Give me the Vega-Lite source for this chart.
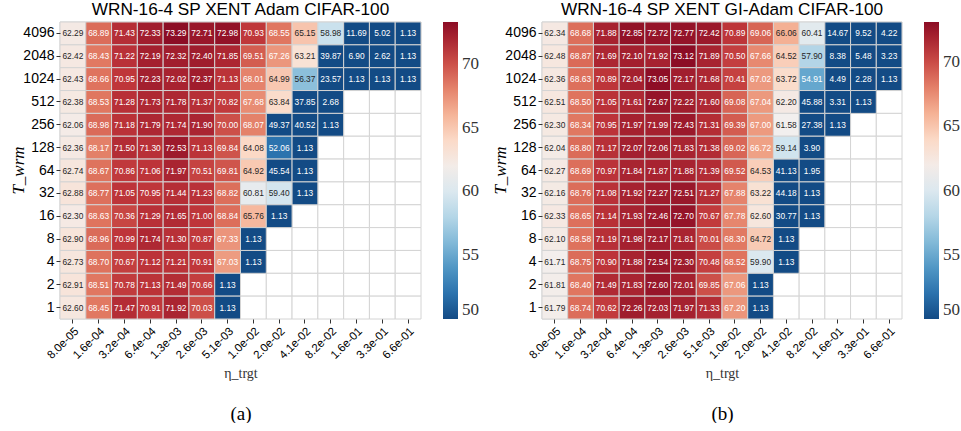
{
  "$schema": "https://vega.github.io/schema/vega-lite/v6.json",
  "background": "white",
  "padding": {"left": 9, "top": 1, "right": 0, "bottom": 0},
  "config": {
    "view": {"stroke": null},
    "concat": {"spacing": 12},
    "font": "Liberation Sans"
  },
  "datasets": {
    "a": [
      {"T":4096,"eta":"8.0e-05","acc":62.29},{"T":4096,"eta":"1.6e-04","acc":68.89},{"T":4096,"eta":"3.2e-04","acc":71.43},{"T":4096,"eta":"6.4e-04","acc":72.33},{"T":4096,"eta":"1.3e-03","acc":73.29},{"T":4096,"eta":"2.6e-03","acc":72.71},{"T":4096,"eta":"5.1e-03","acc":72.98},{"T":4096,"eta":"1.0e-02","acc":70.93},{"T":4096,"eta":"2.0e-02","acc":68.55},{"T":4096,"eta":"4.1e-02","acc":65.15},{"T":4096,"eta":"8.2e-02","acc":58.98},{"T":4096,"eta":"1.6e-01","acc":11.69},{"T":4096,"eta":"3.3e-01","acc":5.02},{"T":4096,"eta":"6.6e-01","acc":1.13},
      {"T":2048,"eta":"8.0e-05","acc":62.42},{"T":2048,"eta":"1.6e-04","acc":68.43},{"T":2048,"eta":"3.2e-04","acc":71.22},{"T":2048,"eta":"6.4e-04","acc":72.19},{"T":2048,"eta":"1.3e-03","acc":72.32},{"T":2048,"eta":"2.6e-03","acc":72.40},{"T":2048,"eta":"5.1e-03","acc":71.85},{"T":2048,"eta":"1.0e-02","acc":69.51},{"T":2048,"eta":"2.0e-02","acc":67.26},{"T":2048,"eta":"4.1e-02","acc":63.21},{"T":2048,"eta":"8.2e-02","acc":39.87},{"T":2048,"eta":"1.6e-01","acc":6.90},{"T":2048,"eta":"3.3e-01","acc":2.62},{"T":2048,"eta":"6.6e-01","acc":1.13},
      {"T":1024,"eta":"8.0e-05","acc":62.43},{"T":1024,"eta":"1.6e-04","acc":68.66},{"T":1024,"eta":"3.2e-04","acc":70.95},{"T":1024,"eta":"6.4e-04","acc":72.23},{"T":1024,"eta":"1.3e-03","acc":72.02},{"T":1024,"eta":"2.6e-03","acc":72.37},{"T":1024,"eta":"5.1e-03","acc":71.13},{"T":1024,"eta":"1.0e-02","acc":68.01},{"T":1024,"eta":"2.0e-02","acc":64.99},{"T":1024,"eta":"4.1e-02","acc":56.37},{"T":1024,"eta":"8.2e-02","acc":23.57},{"T":1024,"eta":"1.6e-01","acc":1.13},{"T":1024,"eta":"3.3e-01","acc":1.13},{"T":1024,"eta":"6.6e-01","acc":1.13},
      {"T":512,"eta":"8.0e-05","acc":62.38},{"T":512,"eta":"1.6e-04","acc":68.53},{"T":512,"eta":"3.2e-04","acc":71.28},{"T":512,"eta":"6.4e-04","acc":71.73},{"T":512,"eta":"1.3e-03","acc":71.78},{"T":512,"eta":"2.6e-03","acc":71.37},{"T":512,"eta":"5.1e-03","acc":70.82},{"T":512,"eta":"1.0e-02","acc":67.68},{"T":512,"eta":"2.0e-02","acc":63.84},{"T":512,"eta":"4.1e-02","acc":37.85},{"T":512,"eta":"8.2e-02","acc":2.68},{"T":512,"eta":"1.6e-01","acc":null},{"T":512,"eta":"3.3e-01","acc":null},{"T":512,"eta":"6.6e-01","acc":null},
      {"T":256,"eta":"8.0e-05","acc":62.06},{"T":256,"eta":"1.6e-04","acc":68.98},{"T":256,"eta":"3.2e-04","acc":71.18},{"T":256,"eta":"6.4e-04","acc":71.79},{"T":256,"eta":"1.3e-03","acc":71.74},{"T":256,"eta":"2.6e-03","acc":71.90},{"T":256,"eta":"5.1e-03","acc":70.00},{"T":256,"eta":"1.0e-02","acc":68.07},{"T":256,"eta":"2.0e-02","acc":49.37},{"T":256,"eta":"4.1e-02","acc":40.52},{"T":256,"eta":"8.2e-02","acc":1.13},{"T":256,"eta":"1.6e-01","acc":null},{"T":256,"eta":"3.3e-01","acc":null},{"T":256,"eta":"6.6e-01","acc":null},
      {"T":128,"eta":"8.0e-05","acc":62.36},{"T":128,"eta":"1.6e-04","acc":68.17},{"T":128,"eta":"3.2e-04","acc":71.50},{"T":128,"eta":"6.4e-04","acc":71.30},{"T":128,"eta":"1.3e-03","acc":72.53},{"T":128,"eta":"2.6e-03","acc":71.13},{"T":128,"eta":"5.1e-03","acc":69.84},{"T":128,"eta":"1.0e-02","acc":64.08},{"T":128,"eta":"2.0e-02","acc":52.06},{"T":128,"eta":"4.1e-02","acc":1.13},{"T":128,"eta":"8.2e-02","acc":null},{"T":128,"eta":"1.6e-01","acc":null},{"T":128,"eta":"3.3e-01","acc":null},{"T":128,"eta":"6.6e-01","acc":null},
      {"T":64,"eta":"8.0e-05","acc":62.74},{"T":64,"eta":"1.6e-04","acc":68.67},{"T":64,"eta":"3.2e-04","acc":70.86},{"T":64,"eta":"6.4e-04","acc":71.06},{"T":64,"eta":"1.3e-03","acc":71.97},{"T":64,"eta":"2.6e-03","acc":70.51},{"T":64,"eta":"5.1e-03","acc":69.81},{"T":64,"eta":"1.0e-02","acc":64.92},{"T":64,"eta":"2.0e-02","acc":45.54},{"T":64,"eta":"4.1e-02","acc":1.13},{"T":64,"eta":"8.2e-02","acc":null},{"T":64,"eta":"1.6e-01","acc":null},{"T":64,"eta":"3.3e-01","acc":null},{"T":64,"eta":"6.6e-01","acc":null},
      {"T":32,"eta":"8.0e-05","acc":62.88},{"T":32,"eta":"1.6e-04","acc":68.77},{"T":32,"eta":"3.2e-04","acc":71.05},{"T":32,"eta":"6.4e-04","acc":70.95},{"T":32,"eta":"1.3e-03","acc":71.44},{"T":32,"eta":"2.6e-03","acc":71.23},{"T":32,"eta":"5.1e-03","acc":68.82},{"T":32,"eta":"1.0e-02","acc":60.81},{"T":32,"eta":"2.0e-02","acc":59.40},{"T":32,"eta":"4.1e-02","acc":1.13},{"T":32,"eta":"8.2e-02","acc":null},{"T":32,"eta":"1.6e-01","acc":null},{"T":32,"eta":"3.3e-01","acc":null},{"T":32,"eta":"6.6e-01","acc":null},
      {"T":16,"eta":"8.0e-05","acc":62.30},{"T":16,"eta":"1.6e-04","acc":68.63},{"T":16,"eta":"3.2e-04","acc":70.36},{"T":16,"eta":"6.4e-04","acc":71.29},{"T":16,"eta":"1.3e-03","acc":71.65},{"T":16,"eta":"2.6e-03","acc":71.00},{"T":16,"eta":"5.1e-03","acc":68.84},{"T":16,"eta":"1.0e-02","acc":65.76},{"T":16,"eta":"2.0e-02","acc":1.13},{"T":16,"eta":"4.1e-02","acc":null},{"T":16,"eta":"8.2e-02","acc":null},{"T":16,"eta":"1.6e-01","acc":null},{"T":16,"eta":"3.3e-01","acc":null},{"T":16,"eta":"6.6e-01","acc":null},
      {"T":8,"eta":"8.0e-05","acc":62.90},{"T":8,"eta":"1.6e-04","acc":68.96},{"T":8,"eta":"3.2e-04","acc":70.99},{"T":8,"eta":"6.4e-04","acc":71.74},{"T":8,"eta":"1.3e-03","acc":71.30},{"T":8,"eta":"2.6e-03","acc":70.87},{"T":8,"eta":"5.1e-03","acc":67.33},{"T":8,"eta":"1.0e-02","acc":1.13},{"T":8,"eta":"2.0e-02","acc":null},{"T":8,"eta":"4.1e-02","acc":null},{"T":8,"eta":"8.2e-02","acc":null},{"T":8,"eta":"1.6e-01","acc":null},{"T":8,"eta":"3.3e-01","acc":null},{"T":8,"eta":"6.6e-01","acc":null},
      {"T":4,"eta":"8.0e-05","acc":62.73},{"T":4,"eta":"1.6e-04","acc":68.70},{"T":4,"eta":"3.2e-04","acc":70.67},{"T":4,"eta":"6.4e-04","acc":71.12},{"T":4,"eta":"1.3e-03","acc":71.21},{"T":4,"eta":"2.6e-03","acc":70.91},{"T":4,"eta":"5.1e-03","acc":67.03},{"T":4,"eta":"1.0e-02","acc":1.13},{"T":4,"eta":"2.0e-02","acc":null},{"T":4,"eta":"4.1e-02","acc":null},{"T":4,"eta":"8.2e-02","acc":null},{"T":4,"eta":"1.6e-01","acc":null},{"T":4,"eta":"3.3e-01","acc":null},{"T":4,"eta":"6.6e-01","acc":null},
      {"T":2,"eta":"8.0e-05","acc":62.91},{"T":2,"eta":"1.6e-04","acc":68.51},{"T":2,"eta":"3.2e-04","acc":70.78},{"T":2,"eta":"6.4e-04","acc":71.13},{"T":2,"eta":"1.3e-03","acc":71.49},{"T":2,"eta":"2.6e-03","acc":70.66},{"T":2,"eta":"5.1e-03","acc":1.13},{"T":2,"eta":"1.0e-02","acc":null},{"T":2,"eta":"2.0e-02","acc":null},{"T":2,"eta":"4.1e-02","acc":null},{"T":2,"eta":"8.2e-02","acc":null},{"T":2,"eta":"1.6e-01","acc":null},{"T":2,"eta":"3.3e-01","acc":null},{"T":2,"eta":"6.6e-01","acc":null},
      {"T":1,"eta":"8.0e-05","acc":62.60},{"T":1,"eta":"1.6e-04","acc":68.45},{"T":1,"eta":"3.2e-04","acc":71.47},{"T":1,"eta":"6.4e-04","acc":70.91},{"T":1,"eta":"1.3e-03","acc":71.92},{"T":1,"eta":"2.6e-03","acc":70.03},{"T":1,"eta":"5.1e-03","acc":1.13},{"T":1,"eta":"1.0e-02","acc":null},{"T":1,"eta":"2.0e-02","acc":null},{"T":1,"eta":"4.1e-02","acc":null},{"T":1,"eta":"8.2e-02","acc":null},{"T":1,"eta":"1.6e-01","acc":null},{"T":1,"eta":"3.3e-01","acc":null},{"T":1,"eta":"6.6e-01","acc":null}
    ],
    "b": [
      {"T":4096,"eta":"8.0e-05","acc":62.34},{"T":4096,"eta":"1.6e-04","acc":68.68},{"T":4096,"eta":"3.2e-04","acc":71.88},{"T":4096,"eta":"6.4e-04","acc":72.85},{"T":4096,"eta":"1.3e-03","acc":72.72},{"T":4096,"eta":"2.6e-03","acc":72.77},{"T":4096,"eta":"5.1e-03","acc":72.42},{"T":4096,"eta":"1.0e-02","acc":70.89},{"T":4096,"eta":"2.0e-02","acc":69.06},{"T":4096,"eta":"4.1e-02","acc":66.06},{"T":4096,"eta":"8.2e-02","acc":60.41},{"T":4096,"eta":"1.6e-01","acc":14.67},{"T":4096,"eta":"3.3e-01","acc":9.52},{"T":4096,"eta":"6.6e-01","acc":4.22},
      {"T":2048,"eta":"8.0e-05","acc":62.48},{"T":2048,"eta":"1.6e-04","acc":68.87},{"T":2048,"eta":"3.2e-04","acc":71.69},{"T":2048,"eta":"6.4e-04","acc":72.10},{"T":2048,"eta":"1.3e-03","acc":71.92},{"T":2048,"eta":"2.6e-03","acc":73.12},{"T":2048,"eta":"5.1e-03","acc":71.89},{"T":2048,"eta":"1.0e-02","acc":70.50},{"T":2048,"eta":"2.0e-02","acc":67.66},{"T":2048,"eta":"4.1e-02","acc":64.52},{"T":2048,"eta":"8.2e-02","acc":57.90},{"T":2048,"eta":"1.6e-01","acc":8.38},{"T":2048,"eta":"3.3e-01","acc":5.48},{"T":2048,"eta":"6.6e-01","acc":3.23},
      {"T":1024,"eta":"8.0e-05","acc":62.36},{"T":1024,"eta":"1.6e-04","acc":68.63},{"T":1024,"eta":"3.2e-04","acc":70.89},{"T":1024,"eta":"6.4e-04","acc":72.04},{"T":1024,"eta":"1.3e-03","acc":73.05},{"T":1024,"eta":"2.6e-03","acc":72.17},{"T":1024,"eta":"5.1e-03","acc":71.68},{"T":1024,"eta":"1.0e-02","acc":70.41},{"T":1024,"eta":"2.0e-02","acc":67.02},{"T":1024,"eta":"4.1e-02","acc":63.72},{"T":1024,"eta":"8.2e-02","acc":54.91},{"T":1024,"eta":"1.6e-01","acc":4.49},{"T":1024,"eta":"3.3e-01","acc":2.28},{"T":1024,"eta":"6.6e-01","acc":1.13},
      {"T":512,"eta":"8.0e-05","acc":62.51},{"T":512,"eta":"1.6e-04","acc":68.50},{"T":512,"eta":"3.2e-04","acc":71.05},{"T":512,"eta":"6.4e-04","acc":71.61},{"T":512,"eta":"1.3e-03","acc":72.67},{"T":512,"eta":"2.6e-03","acc":72.22},{"T":512,"eta":"5.1e-03","acc":71.60},{"T":512,"eta":"1.0e-02","acc":69.08},{"T":512,"eta":"2.0e-02","acc":67.04},{"T":512,"eta":"4.1e-02","acc":62.20},{"T":512,"eta":"8.2e-02","acc":45.88},{"T":512,"eta":"1.6e-01","acc":3.31},{"T":512,"eta":"3.3e-01","acc":1.13},{"T":512,"eta":"6.6e-01","acc":null},
      {"T":256,"eta":"8.0e-05","acc":62.30},{"T":256,"eta":"1.6e-04","acc":68.34},{"T":256,"eta":"3.2e-04","acc":70.95},{"T":256,"eta":"6.4e-04","acc":71.97},{"T":256,"eta":"1.3e-03","acc":71.99},{"T":256,"eta":"2.6e-03","acc":72.43},{"T":256,"eta":"5.1e-03","acc":71.31},{"T":256,"eta":"1.0e-02","acc":69.39},{"T":256,"eta":"2.0e-02","acc":67.00},{"T":256,"eta":"4.1e-02","acc":61.58},{"T":256,"eta":"8.2e-02","acc":27.38},{"T":256,"eta":"1.6e-01","acc":1.13},{"T":256,"eta":"3.3e-01","acc":null},{"T":256,"eta":"6.6e-01","acc":null},
      {"T":128,"eta":"8.0e-05","acc":62.04},{"T":128,"eta":"1.6e-04","acc":68.80},{"T":128,"eta":"3.2e-04","acc":71.17},{"T":128,"eta":"6.4e-04","acc":72.07},{"T":128,"eta":"1.3e-03","acc":72.06},{"T":128,"eta":"2.6e-03","acc":71.83},{"T":128,"eta":"5.1e-03","acc":71.38},{"T":128,"eta":"1.0e-02","acc":69.02},{"T":128,"eta":"2.0e-02","acc":66.72},{"T":128,"eta":"4.1e-02","acc":59.14},{"T":128,"eta":"8.2e-02","acc":3.90},{"T":128,"eta":"1.6e-01","acc":null},{"T":128,"eta":"3.3e-01","acc":null},{"T":128,"eta":"6.6e-01","acc":null},
      {"T":64,"eta":"8.0e-05","acc":62.27},{"T":64,"eta":"1.6e-04","acc":68.69},{"T":64,"eta":"3.2e-04","acc":70.97},{"T":64,"eta":"6.4e-04","acc":71.84},{"T":64,"eta":"1.3e-03","acc":71.87},{"T":64,"eta":"2.6e-03","acc":71.88},{"T":64,"eta":"5.1e-03","acc":71.39},{"T":64,"eta":"1.0e-02","acc":69.52},{"T":64,"eta":"2.0e-02","acc":64.53},{"T":64,"eta":"4.1e-02","acc":41.13},{"T":64,"eta":"8.2e-02","acc":1.95},{"T":64,"eta":"1.6e-01","acc":null},{"T":64,"eta":"3.3e-01","acc":null},{"T":64,"eta":"6.6e-01","acc":null},
      {"T":32,"eta":"8.0e-05","acc":62.16},{"T":32,"eta":"1.6e-04","acc":68.76},{"T":32,"eta":"3.2e-04","acc":71.08},{"T":32,"eta":"6.4e-04","acc":71.92},{"T":32,"eta":"1.3e-03","acc":72.27},{"T":32,"eta":"2.6e-03","acc":72.51},{"T":32,"eta":"5.1e-03","acc":71.27},{"T":32,"eta":"1.0e-02","acc":67.88},{"T":32,"eta":"2.0e-02","acc":63.22},{"T":32,"eta":"4.1e-02","acc":44.18},{"T":32,"eta":"8.2e-02","acc":1.13},{"T":32,"eta":"1.6e-01","acc":null},{"T":32,"eta":"3.3e-01","acc":null},{"T":32,"eta":"6.6e-01","acc":null},
      {"T":16,"eta":"8.0e-05","acc":62.33},{"T":16,"eta":"1.6e-04","acc":68.65},{"T":16,"eta":"3.2e-04","acc":71.14},{"T":16,"eta":"6.4e-04","acc":71.93},{"T":16,"eta":"1.3e-03","acc":72.46},{"T":16,"eta":"2.6e-03","acc":72.70},{"T":16,"eta":"5.1e-03","acc":70.67},{"T":16,"eta":"1.0e-02","acc":67.78},{"T":16,"eta":"2.0e-02","acc":62.60},{"T":16,"eta":"4.1e-02","acc":30.77},{"T":16,"eta":"8.2e-02","acc":1.13},{"T":16,"eta":"1.6e-01","acc":null},{"T":16,"eta":"3.3e-01","acc":null},{"T":16,"eta":"6.6e-01","acc":null},
      {"T":8,"eta":"8.0e-05","acc":62.10},{"T":8,"eta":"1.6e-04","acc":68.58},{"T":8,"eta":"3.2e-04","acc":71.19},{"T":8,"eta":"6.4e-04","acc":71.98},{"T":8,"eta":"1.3e-03","acc":72.17},{"T":8,"eta":"2.6e-03","acc":71.81},{"T":8,"eta":"5.1e-03","acc":70.01},{"T":8,"eta":"1.0e-02","acc":68.30},{"T":8,"eta":"2.0e-02","acc":64.72},{"T":8,"eta":"4.1e-02","acc":1.13},{"T":8,"eta":"8.2e-02","acc":null},{"T":8,"eta":"1.6e-01","acc":null},{"T":8,"eta":"3.3e-01","acc":null},{"T":8,"eta":"6.6e-01","acc":null},
      {"T":4,"eta":"8.0e-05","acc":61.71},{"T":4,"eta":"1.6e-04","acc":68.75},{"T":4,"eta":"3.2e-04","acc":70.90},{"T":4,"eta":"6.4e-04","acc":71.88},{"T":4,"eta":"1.3e-03","acc":72.54},{"T":4,"eta":"2.6e-03","acc":72.30},{"T":4,"eta":"5.1e-03","acc":70.48},{"T":4,"eta":"1.0e-02","acc":68.52},{"T":4,"eta":"2.0e-02","acc":59.90},{"T":4,"eta":"4.1e-02","acc":1.13},{"T":4,"eta":"8.2e-02","acc":null},{"T":4,"eta":"1.6e-01","acc":null},{"T":4,"eta":"3.3e-01","acc":null},{"T":4,"eta":"6.6e-01","acc":null},
      {"T":2,"eta":"8.0e-05","acc":61.81},{"T":2,"eta":"1.6e-04","acc":68.40},{"T":2,"eta":"3.2e-04","acc":71.49},{"T":2,"eta":"6.4e-04","acc":71.83},{"T":2,"eta":"1.3e-03","acc":72.60},{"T":2,"eta":"2.6e-03","acc":72.01},{"T":2,"eta":"5.1e-03","acc":69.85},{"T":2,"eta":"1.0e-02","acc":67.06},{"T":2,"eta":"2.0e-02","acc":1.13},{"T":2,"eta":"4.1e-02","acc":null},{"T":2,"eta":"8.2e-02","acc":null},{"T":2,"eta":"1.6e-01","acc":null},{"T":2,"eta":"3.3e-01","acc":null},{"T":2,"eta":"6.6e-01","acc":null},
      {"T":1,"eta":"8.0e-05","acc":61.79},{"T":1,"eta":"1.6e-04","acc":68.74},{"T":1,"eta":"3.2e-04","acc":70.62},{"T":1,"eta":"6.4e-04","acc":72.26},{"T":1,"eta":"1.3e-03","acc":72.03},{"T":1,"eta":"2.6e-03","acc":71.97},{"T":1,"eta":"5.1e-03","acc":71.33},{"T":1,"eta":"1.0e-02","acc":67.20},{"T":1,"eta":"2.0e-02","acc":1.13},{"T":1,"eta":"4.1e-02","acc":null},{"T":1,"eta":"8.2e-02","acc":null},{"T":1,"eta":"1.6e-01","acc":null},{"T":1,"eta":"3.3e-01","acc":null},{"T":1,"eta":"6.6e-01","acc":null}
    ]
  },
  "hconcat": [
    {
      "width": 361, "height": 297,
      "data": {"name": "a"},
      "title": {"text": "WRN-16-4 SP XENT Adam CIFAR-100", "font": "Liberation Sans", "fontSize": 17.2, "fontWeight": "normal", "color": "#000", "offset": 3},
      "encoding": {
        "x": {"field": "eta", "type": "ordinal",
          "scale": {"domain": ["8.0e-05","1.6e-04","3.2e-04","6.4e-04","1.3e-03","2.6e-03","5.1e-03","1.0e-02","2.0e-02","4.1e-02","8.2e-02","1.6e-01","3.3e-01","6.6e-01"], "paddingInner": 0, "paddingOuter": 0},
          "axis": {"title": "η_trgt", "titleFont": "Liberation Serif", "titleFontWeight": "normal", "titleFontSize": 14, "titleColor": "#333", "titlePadding": 6, "labelAngle": -45, "labelAlign": "right", "labelBaseline": "top", "labelFontSize": 11.5, "labelColor": "#000", "labelPadding": 2, "tickSize": 4, "tickColor": "#333", "domain": false}},
        "y": {"field": "T", "type": "ordinal",
          "scale": {"domain": [4096,2048,1024,512,256,128,64,32,16,8,4,2,1], "paddingInner": 0, "paddingOuter": 0},
          "axis": {"title": "T_wrm", "titleFont": "Liberation Serif", "titleFontStyle": "italic", "titleFontWeight": "normal", "titleFontSize": 17, "titleColor": "#000", "titleX": -42, "titleY": 148, "titleAngle": -90, "titleAlign": "center", "titleBaseline": "middle", "labelFontSize": 14, "labelColor": "#000", "labelPadding": 2, "tickSize": 4, "tickColor": "#333", "domain": false}}
      },
      "layer": [
        {"mark": {"type": "rect", "fill": "white", "stroke": "#d4d4d4", "strokeWidth": 1}},
        {"transform": [{"filter": "datum.acc != null"}],
         "mark": {"type": "rect", "stroke": "#d4d4d4", "strokeWidth": 1},
         "encoding": {"x": {"field": "eta", "type": "ordinal", "axis": null},
           "color": {"field": "acc", "type": "quantitative",
           "scale": {"scheme": "redblue", "reverse": true, "domain": [50, 73.29], "clamp": true},
           "legend": {"title": null, "values": [50, 55, 60, 65, 70], "gradientLength": 297, "gradientThickness": 15, "gradientStrokeWidth": 0, "offset": 22, "labelFont": "Liberation Serif", "labelFontSize": 17, "labelColor": "#333", "labelOffset": 4, "labelOverlap": false, "labelBaseline": "middle"}}}},
        {"transform": [{"filter": "datum.acc != null"}],
         "mark": {"type": "text", "fontSize": 8.4},
         "encoding": {"x": {"field": "eta", "type": "ordinal", "axis": null},
           "text": {"field": "acc", "type": "quantitative", "format": ".2f"},
           "color": {"condition": {"test": "datum.acc >= 66.4 || datum.acc <= 55.5", "value": "#ffffff"}, "value": "#262626"}}},
        {"mark": {"type": "rect", "opacity": 0},
         "encoding": {"x": {"field": "eta", "type": "ordinal", "axis": {"orient": "bottom", "title": "(a)", "titleFont": "Liberation Serif", "titleFontWeight": "normal", "titleFontSize": 19, "titleColor": "#000", "labels": false, "ticks": false, "domain": false, "titlePadding": 85}}}}
      ],
      "resolve": {"axis": {"x": "independent"}}
    },
    {
      "width": 360, "height": 297,
      "data": {"name": "b"},
      "title": {"text": "WRN-16-4 SP XENT GI-Adam CIFAR-100", "font": "Liberation Sans", "fontSize": 17.2, "fontWeight": "normal", "color": "#000", "offset": 3},
      "encoding": {
        "x": {"field": "eta", "type": "ordinal",
          "scale": {"domain": ["8.0e-05","1.6e-04","3.2e-04","6.4e-04","1.3e-03","2.6e-03","5.1e-03","1.0e-02","2.0e-02","4.1e-02","8.2e-02","1.6e-01","3.3e-01","6.6e-01"], "paddingInner": 0, "paddingOuter": 0},
          "axis": {"title": "η_trgt", "titleFont": "Liberation Serif", "titleFontWeight": "normal", "titleFontSize": 14, "titleColor": "#333", "titlePadding": 6, "labelAngle": -45, "labelAlign": "right", "labelBaseline": "top", "labelFontSize": 11.5, "labelColor": "#000", "labelPadding": 2, "tickSize": 4, "tickColor": "#333", "domain": false}},
        "y": {"field": "T", "type": "ordinal",
          "scale": {"domain": [4096,2048,1024,512,256,128,64,32,16,8,4,2,1], "paddingInner": 0, "paddingOuter": 0},
          "axis": {"title": "T_wrm", "titleFont": "Liberation Serif", "titleFontStyle": "italic", "titleFontWeight": "normal", "titleFontSize": 17, "titleColor": "#000", "titleX": -42, "titleY": 148, "titleAngle": -90, "titleAlign": "center", "titleBaseline": "middle", "labelFontSize": 14, "labelColor": "#000", "labelPadding": 2, "tickSize": 4, "tickColor": "#333", "domain": false}}
      },
      "layer": [
        {"mark": {"type": "rect", "fill": "white", "stroke": "#d4d4d4", "strokeWidth": 1}},
        {"transform": [{"filter": "datum.acc != null"}],
         "mark": {"type": "rect", "stroke": "#d4d4d4", "strokeWidth": 1},
         "encoding": {"x": {"field": "eta", "type": "ordinal", "axis": null},
           "color": {"field": "acc", "type": "quantitative",
           "scale": {"scheme": "redblue", "reverse": true, "domain": [50, 73.12], "clamp": true},
           "legend": {"title": null, "values": [50, 55, 60, 65, 70], "gradientLength": 297, "gradientThickness": 15, "gradientStrokeWidth": 0, "offset": 22, "labelFont": "Liberation Serif", "labelFontSize": 17, "labelColor": "#333", "labelOffset": 4, "labelOverlap": false, "labelBaseline": "middle"}}}},
        {"transform": [{"filter": "datum.acc != null"}],
         "mark": {"type": "text", "fontSize": 8.4},
         "encoding": {"x": {"field": "eta", "type": "ordinal", "axis": null},
           "text": {"field": "acc", "type": "quantitative", "format": ".2f"},
           "color": {"condition": {"test": "datum.acc >= 66.4 || datum.acc <= 55.5", "value": "#ffffff"}, "value": "#262626"}}},
        {"mark": {"type": "rect", "opacity": 0},
         "encoding": {"x": {"field": "eta", "type": "ordinal", "axis": {"orient": "bottom", "title": "(b)", "titleFont": "Liberation Serif", "titleFontWeight": "normal", "titleFontSize": 19, "titleColor": "#000", "labels": false, "ticks": false, "domain": false, "titlePadding": 85}}}}
      ],
      "resolve": {"axis": {"x": "independent"}}
    }
  ],
  "resolve": {"scale": {"color": "independent"}}
}
